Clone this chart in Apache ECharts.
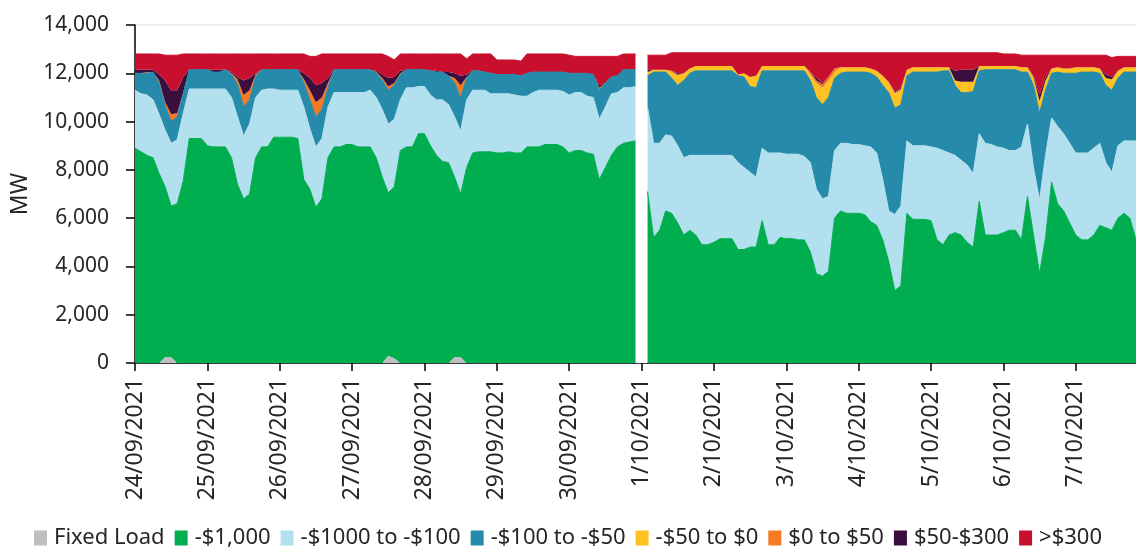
<!DOCTYPE html>
<html>
<head>
<meta charset="utf-8">
<script src="https://cdn.jsdelivr.net/npm/echarts@6/dist/echarts.min.js"></script>
<style>
html,body{margin:0;padding:0;background:#fff;}
#chart{width:1136px;height:547px;}
</style>
</head>
<body>
<div id="chart"></div>
<script>
// Sample times: hours since 24/09/2021 00:00, every 2 hours (index 84 = gap at 1/10 00:00)
const hours = Array.from({length: 167}, (_, i) => i * 2);
const tickLabels = ['24/09/2021','25/09/2021','26/09/2021','27/09/2021','28/09/2021','29/09/2021','30/09/2021',
  '1/10/2021','2/10/2021','3/10/2021','4/10/2021','5/10/2021','6/10/2021','7/10/2021'];
const seriesNames = ['Fixed Load','-$1,000','-$1000 to -$100','-$100 to -$50','-$50 to $0','$0 to $50','$50-$300','>$300'];

const fixedLoad = [
  0,0,0,0,0,250,250,0,0,0,0,0,
  0,0,0,0,0,0,0,0,0,0,0,0,
  0,0,0,0,0,0,0,0,0,0,0,0,
  0,0,0,0,0,0,300,200,0,0,0,0,
  0,0,0,0,0,250,250,0,0,0,0,0,
  0,0,0,0,0,0,0,0,0,0,0,0,
  0,0,0,0,0,0,0,0,0,0,0,0,
  null,
  0,0,0,0,0,0,0,0,0,0,0,
  0,0,0,0,0,0,0,0,0,0,0,0,
  0,0,0,0,0,0,0,0,0,0,0,0,
  0,0,0,0,0,0,0,0,0,0,0,0,
  0,0,0,0,0,0,0,0,0,0,0,0,
  0,0,0,0,0,0,0,0,0,0,0,0,
  0,0,0,0,0,0,0,0,0,0,0
];
const band1000 = [
  8900,8750,8600,8500,7850,7050,6250,6600,7550,9300,9300,9300,
  9000,8950,8950,8950,8500,7400,6800,7000,8500,8950,8950,9350,
  9350,9350,9350,9300,7600,7200,6450,6800,8500,8950,8950,9050,
  9050,8950,8950,8950,8500,7700,6750,7100,8800,8950,8950,9500,
  9500,9000,8600,8350,8300,7450,6750,8100,8700,8750,8750,8750,
  8700,8700,8750,8700,8700,8950,8950,8950,9050,9050,9050,8950,
  8700,8800,8800,8700,8650,7600,8100,8600,8950,9100,9150,9200,
  null,
  7100,5200,5500,6300,6200,5800,5300,5500,5300,4900,4900,
  5000,5150,5150,5150,4700,4700,4800,4800,5900,4900,4900,5200,
  5150,5150,5100,5100,4600,3700,3600,3800,6000,6300,6200,6200,
  6200,6150,5850,5700,5100,4200,3000,3200,6200,5950,5950,5950,
  5900,5100,4900,5300,5400,5300,5000,4800,6700,5300,5300,5300,
  5400,5500,5500,5100,6900,5300,3700,5200,7500,6600,6300,5800,
  5300,5100,5100,5300,5700,5600,5500,6000,6200,6000,5100
];
const band1000to100 = [
  2400,2400,2500,2400,2450,2350,2600,2650,2800,2050,2050,2050,
  2350,2400,2400,2400,2500,2800,2600,2900,2500,2350,2400,2000,
  1950,1950,1950,2000,3000,2500,2500,2500,2100,2250,2250,2150,
  2150,2250,2250,2350,2500,2800,2850,2800,2100,2450,2450,1950,
  1950,2100,2300,2550,2400,2500,2600,2800,2600,2550,2550,2400,
  2450,2450,2400,2400,2350,2100,2250,2350,2250,2250,2250,2300,
  2400,2400,2400,2350,2350,2500,2500,2550,2250,2300,2250,2250,
  null,
  3500,3900,3600,3150,3200,3200,3200,3100,3300,3700,3700,
  3600,3450,3450,3450,3600,3400,3100,2900,3000,3800,3800,3500,
  3500,3500,3550,3450,3700,3500,3200,3100,2800,2800,2900,2850,
  2850,2850,3100,3000,2500,2100,3150,3300,3000,3050,3050,3050,
  3050,3800,3900,3400,3200,3100,3200,3050,2800,3800,3750,3650,
  3500,3300,3300,3850,3000,2800,3050,3400,2650,3200,3200,3300,
  3400,3600,3600,3600,3400,2700,2400,3000,3000,3200,4100
];
const band100to50 = [
  700,850,900,1150,1300,1000,900,950,800,800,800,800,
  800,700,700,800,950,1350,1200,1000,850,850,800,800,
  850,850,850,850,1000,1200,1250,1200,800,950,950,950,
  950,950,950,850,1000,1200,1400,1400,1050,750,750,700,
  700,1000,1150,1150,1200,1400,1400,900,800,800,750,850,
  800,800,800,850,850,950,850,750,750,750,750,800,
  900,800,800,950,950,1200,1000,700,700,750,750,700,
  null,
  1300,2950,2950,2600,2400,2500,3200,3400,3500,3500,3500,
  3500,3500,3500,3500,3600,3750,3550,3700,3200,3400,3400,3400,
  3450,3450,3450,3550,3400,3800,3900,4100,3000,2900,2950,3000,
  3000,3050,3050,3150,3900,4900,4400,4200,2700,3050,3050,3050,
  3100,3150,3300,3400,2900,2800,3000,3400,2600,3050,3100,3200,
  3250,3350,3350,3100,2150,3400,3600,2700,1850,2250,2500,2900,
  3300,3350,3350,3150,2900,3200,3400,2800,2850,2850,2850
];
const band50to0 = [
  0,0,0,0,0,0,0,0,0,0,0,0,
  0,0,0,0,0,0,0,0,0,0,0,0,
  0,0,0,0,0,0,0,0,0,0,0,0,
  0,0,0,0,0,0,0,0,0,0,0,0,
  0,0,0,0,0,0,0,0,0,0,0,0,
  0,0,0,0,0,0,0,0,0,0,0,0,
  0,0,0,0,0,0,0,0,0,0,0,0,
  null,
  150,100,100,100,250,400,300,200,200,200,200,
  200,200,200,200,50,150,400,500,200,200,200,200,
  200,200,200,200,250,600,700,700,250,250,200,200,
  200,200,200,250,400,400,600,600,250,200,200,200,
  200,200,150,150,200,450,450,400,200,150,150,150,
  150,150,150,200,200,350,500,400,200,200,200,200,
  250,200,200,200,200,300,450,300,200,200,200
];
const band0to50 = [
  0,0,50,0,100,150,300,150,50,0,0,0,
  0,0,0,0,50,200,500,400,100,0,0,0,
  0,0,0,0,150,400,600,500,200,0,0,0,
  0,0,0,0,50,100,150,100,50,0,0,0,
  0,0,0,0,0,200,500,50,0,0,0,0,
  0,0,0,0,0,0,0,0,0,0,0,0,
  0,0,0,0,0,100,0,0,0,0,0,0,
  null,
  0,0,0,0,50,50,0,0,0,0,0,
  0,0,0,0,0,0,0,0,0,0,0,0,
  0,0,0,0,100,100,150,150,150,0,0,0,
  0,0,0,0,0,50,50,50,0,0,0,0,
  0,0,0,0,0,0,0,0,0,0,0,0,
  0,0,0,0,0,0,0,0,0,0,0,0,
  0,0,0,0,0,0,0,0,0,0,0
];
const band50to300 = [
  150,150,100,100,250,900,1000,950,650,0,0,0,
  0,100,100,0,50,100,600,500,50,0,0,0,
  0,0,0,0,250,500,700,600,200,0,0,0,
  0,0,0,0,50,150,350,250,100,0,0,0,
  0,0,50,0,150,200,400,100,0,0,0,0,
  0,0,0,0,0,0,0,0,0,0,0,0,
  0,0,0,0,0,100,0,0,0,0,0,0,
  null,
  100,0,0,0,0,50,0,0,0,0,0,
  0,0,0,0,0,0,0,0,0,0,0,0,
  0,0,0,0,0,100,50,0,0,0,0,0,
  0,0,0,0,0,0,50,50,0,0,0,0,
  0,0,0,0,400,500,500,500,0,0,0,0,
  0,0,0,0,0,50,250,150,0,0,0,0,
  0,0,0,0,0,150,100,0,0,0,0
];
const bandAbove300 = [
  650,650,650,650,850,1050,1450,1450,950,650,650,650,
  650,650,650,650,750,950,1100,1000,800,650,650,650,
  650,650,650,650,800,900,1200,1200,1000,650,650,650,
  650,650,650,650,700,850,900,700,700,650,650,650,
  650,700,700,750,750,800,900,650,700,700,750,800,
  600,600,600,600,600,800,750,750,750,750,750,750,
  750,700,700,700,750,1200,1100,850,800,650,650,650,
  null,
  600,600,600,600,750,850,850,650,550,550,550,
  550,550,550,550,900,850,1000,950,550,550,550,550,
  550,550,550,550,800,1050,1250,1000,650,600,600,600,
  600,600,650,750,950,1200,1600,1450,700,600,600,600,
  600,600,600,600,750,700,700,700,550,550,550,550,
  500,500,500,500,500,850,1650,900,550,500,550,550,
  500,500,500,500,550,800,800,600,450,450,450
];

const bands = [fixedLoad, band1000, band1000to100, band100to50, band50to0, band0to50, band50to300, bandAbove300];
const colors = ['#BFBFBF','#00AD4F','#B3E0EE','#268BAA','#FFC222','#F47A24','#3A0E3D','#C8102E'];
const strokeBands = [false, true, true, true, false, false, false, true];

const categories = hours.map(h => String(h));
const gapIndex = fixedLoad.indexOf(null);
const FONT = 'Noto Sans';
const TXT = '#262626';

const series = bands.map((vals, k) => {
  const s = {
    name: seriesNames[k],
    type: 'line',
    stack: 'total',
    symbol: 'none',
    showSymbol: false,
    connectNulls: false,
    data: vals.map(v => (v === null ? '-' : v)),
    lineStyle: {width: strokeBands[k] ? 1 : 0, color: colors[k]},
    itemStyle: {color: colors[k]},
    areaStyle: {color: colors[k], opacity: 1},
    emphasis: {disabled: true},
    silent: true
  };
  if (k === 0) {
    s.clip = false;
    s.markArea = {
      silent: true,
      itemStyle: {color: '#ffffff', borderWidth: 0},
      data: [[{xAxis: categories[gapIndex - 1], yAxis: -60}, {xAxis: categories[gapIndex + 1], yAxis: 13500}]]
    };
  }
  return s;
});

const chart = echarts.init(document.getElementById('chart'), null, {renderer: 'canvas'});
chart.setOption({
  animation: false,
  backgroundColor: '#ffffff',
  color: colors,
  grid: {left: 135, right: 0, top: 25, bottom: 184, containLabel: false},
  legend: {
    data: seriesNames,
    left: 'center',
    top: 522,
    icon: 'rect',
    itemWidth: 13,
    itemHeight: 15,
    itemGap: 10,
    selectedMode: false,
    textStyle: {fontFamily: FONT, fontSize: 22, color: TXT, padding: [0, 0, 0, 2]}
  },
  xAxis: {
    type: 'category',
    data: categories,
    boundaryGap: false,
    axisLine: {show: true, onZero: false, lineStyle: {color: '#000', width: 1.5}},
    axisTick: {show: true, length: 8, interval: i => i % 12 === 0, lineStyle: {color: '#000', width: 1.5}},
    splitLine: {show: false},
    axisLabel: {
      rotate: 90,
      margin: 15,
      interval: i => i % 12 === 0,
      fontFamily: FONT,
      fontSize: 23,
      color: TXT,
      formatter: v => tickLabels[Number(v) / 24] || ''
    }
  },
  yAxis: {
    type: 'value',
    min: 0,
    max: 14000,
    interval: 2000,
    name: 'MW',
    nameLocation: 'middle',
    nameGap: 103,
    nameTextStyle: {fontFamily: FONT, fontSize: 23, color: TXT},
    axisLine: {show: true, lineStyle: {color: '#000', width: 1.5}},
    axisTick: {show: true, length: 9, lineStyle: {color: '#000', width: 1.5}},
    splitLine: {show: true, lineStyle: {color: '#E6E6E6', width: 1.5}},
    axisLabel: {
      margin: 26,
      fontFamily: FONT,
      fontSize: 21,
      color: TXT,
      formatter: v => v.toLocaleString('en-US')
    }
  },
  series: series
});
</script>
</body>
</html>
